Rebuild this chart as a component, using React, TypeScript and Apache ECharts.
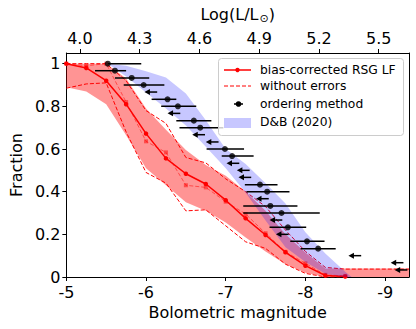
import React, { useEffect, useRef } from "react";
import * as echarts from "echarts";

// ---------- data ----------
const M_SUN = 4.83;
const X_MIN = -9.3;
const X_MAX = -5;

const xTicks = [-5, -6, -7, -8, -9];
const topTicks = [4.0, 4.3, 4.6, 4.9, 5.2, 5.5];
const yTicks = [0, 0.2, 0.4, 0.6, 0.8, 1];

// bias-corrected RSG LF (solid) and "without errors" (dashed) on a 0.25 mag grid
const lfM = [-5, -5.25, -5.5, -5.75, -6, -6.25, -6.5, -6.75, -7, -7.25, -7.5, -7.75, -8, -8.25, -8.5];
const lfCorrected = [1.0, 0.98, 0.92, 0.81, 0.672, 0.556, 0.484, 0.436, 0.36, 0.275, 0.197, 0.116, 0.053, 0.007, 0.002];
const lfNoErr = [1.0, 0.99, 1.0, 0.82, 0.636, 0.584, 0.43, 0.42, 0.353, 0.295, 0.205, 0.118, 0.064, 0.01, 0.005];
const lfNoErrLower = [0.885, 0.905, 0.91, 0.68, 0.49, 0.44, 0.31, 0.315, 0.24, 0.165, 0.134, 0.06, 0.017, 0.0, 0.0];

const upperM = [-5, -5.25, -5.5, -5.75, -6, -6.25, -6.5, -6.75, -7, -7.25, -7.5, -7.75, -8, -8.25, -8.5, -9.3];
const lfNoErrUpper = [1.0, 1.0, 1.0, 0.92, 0.78, 0.72, 0.56, 0.535, 0.46, 0.4, 0.33, 0.22, 0.12, 0.045, 0.037, 0.037];

// shaded range of the bias-corrected LF
const bandM = [-5, -5.25, -5.5, -5.75, -6, -6.25, -6.5, -6.75, -7, -7.25, -7.5, -7.75, -8, -8.25, -8.5, -9.3];
const bandUpper = [1.0, 1.0, 1.0, 0.93, 0.79, 0.69, 0.595, 0.525, 0.475, 0.4, 0.31, 0.2, 0.115, 0.04, 0.04, 0.04];
const bandLower = [0.89, 0.87, 0.81, 0.665, 0.51, 0.43, 0.35, 0.31, 0.255, 0.185, 0.12, 0.06, 0.02, 0.0, 0.0, 0.0];

// D&B (2020) band
const dbM = [-5.52, -5.75, -6.0, -6.25, -6.5, -6.75, -7.0, -7.25, -7.5, -7.75, -8.0, -8.25, -8.5, -8.58];
const dbUpper = [1.0, 0.99, 0.965, 0.935, 0.86, 0.735, 0.6, 0.53, 0.44, 0.345, 0.21, 0.11, 0.025, 0.0];
const dbLower = [1.0, 0.94, 0.865, 0.79, 0.71, 0.61, 0.51, 0.395, 0.265, 0.14, 0.07, 0.015, 0.0, 0.0];

// ordering method: points with asymmetric horizontal error bars
const ordM = [-5.52, -5.61, -5.82, -5.97, -6.27, -6.4, -6.6, -6.68, -6.99, -7.08, -7.43, -7.52, -7.56, -7.7, -7.78, -8.02, -8.16];
const ordF = [1.0, 0.967, 0.933, 0.9, 0.833, 0.8, 0.733, 0.7, 0.6, 0.567, 0.433, 0.4, 0.333, 0.3, 0.233, 0.167, 0.133];
const ordLo = [-5.52, -5.36, -5.61, -5.72, -6.07, -6.19, -6.38, -6.42, -6.76, -6.95, -7.24, -7.26, -7.22, -7.22, -7.55, -7.81, -7.94];
const ordHi = [-5.94, -5.75, -6.04, -6.23, -6.38, -6.63, -6.82, -6.97, -7.23, -7.35, -7.65, -7.8, -7.9, -8.18, -8.01, -8.24, -8.38];

// ordering method: limits (arrows pointing to fainter magnitudes)
const limM = [-6.14, -6.43, -6.74, -6.91, -7.17, -7.3, -7.32, -7.54, -7.71, -7.79, -8.7, -9.23, -9.28];
const limF = [0.867, 0.767, 0.667, 0.633, 0.533, 0.5, 0.467, 0.367, 0.267, 0.2, 0.1, 0.067, 0.033];
const limLen = 0.16;

const FONT = "DejaVu Sans";

function zip(xs: number[], ys: number[]) {
  return xs.map((x, i) => [x, ys[i]]);
}

function bandRenderer(xs: number[], lo: number[], hi: number[], fill: string) {
  return (params: any, api: any) => {
    const pts: number[][] = [];
    for (let i = 0; i < xs.length; i++) pts.push(api.coord([xs[i], hi[i]]));
    for (let i = xs.length - 1; i >= 0; i--) pts.push(api.coord([xs[i], lo[i]]));
    return {
      type: "polygon",
      shape: { points: pts },
      style: { fill, stroke: "none" },
    };
  };
}

export default function App() {
  const ref = useRef<HTMLDivElement>(null);

  useEffect(() => {
    document.body.style.margin = "0";
    if (!ref.current) return;
    const chart = echarts.init(ref.current, undefined, { renderer: "svg" });

    const lumMin = (M_SUN - X_MAX) / 2.5;
    const lumMax = (M_SUN - X_MIN) / 2.5;

    const axisText = { fontSize: 16, fontFamily: FONT, color: "#000" };
    const lineBlack = { color: "#000", width: 1 };
    const dash = [4, 2];

    const legendX = 218;
    const legendY = 58;

    const option: any = {
      animation: false,
      grid: { left: 61, right: 7, top: 53, bottom: 52, containLabel: false },
      xAxis: [
        {
          type: "value",
          position: "bottom",
          inverse: true,
          min: X_MIN,
          max: X_MAX,
          axisLine: { show: true, onZero: false, lineStyle: lineBlack },
          axisTick: { show: true, length: 4, customValues: xTicks, lineStyle: lineBlack },
          axisLabel: { ...axisText, customValues: xTicks, margin: 7, formatter: (v: number) => String(v) },
          splitLine: { show: false },
          name: "Bolometric magnitude",
          nameLocation: "middle",
          nameGap: 27,
          nameTextStyle: { ...axisText },
        },
        {
          type: "value",
          position: "top",
          min: lumMin,
          max: lumMax,
          axisLine: { show: true, onZero: false, lineStyle: lineBlack },
          axisTick: { show: true, length: 4, customValues: topTicks, lineStyle: lineBlack },
          axisLabel: { ...axisText, customValues: topTicks, margin: 7, formatter: (v: number) => v.toFixed(1) },
          splitLine: { show: false },
          name: "Log(L/L{s|⊙})",
          nameLocation: "middle",
          nameGap: 29,
          nameTextStyle: {
            ...axisText,
            rich: {
              s: { fontSize: 11, fontFamily: FONT, color: "#000", padding: [8, 0, 0, 1] },
            },
          },
        },
      ],
      yAxis: [
        {
          type: "value",
          position: "left",
          min: 0,
          max: 1.05,
          axisLine: { show: true, onZero: false, lineStyle: lineBlack },
          axisTick: { show: true, length: 4, customValues: yTicks, lineStyle: lineBlack },
          axisLabel: {
            ...axisText,
            customValues: yTicks,
            margin: 6,
            formatter: (v: number) => (v === 0 ? "0" : v === 1 ? "1" : v.toFixed(1)),
          },
          splitLine: { show: false },
          name: "Fraction",
          nameLocation: "middle",
          nameGap: 41,
          nameRotate: 90,
          nameTextStyle: { ...axisText },
        },
        {
          type: "value",
          position: "right",
          min: 0,
          max: 1.05,
          axisLine: { show: true, onZero: false, lineStyle: lineBlack },
          axisTick: { show: false },
          axisLabel: { show: false },
          splitLine: { show: false },
        },
      ],
      series: [
        {
          type: "custom",
          name: "band",
          clip: true,
          silent: true,
          data: [[X_MAX, 1]],
          renderItem: bandRenderer(bandM, bandLower, bandUpper, "rgba(255,0,0,0.42)"),
          z: 1,
        },
        {
          type: "line",
          name: "without errors upper",
          data: zip(upperM, lfNoErrUpper),
          symbol: "none",
          lineStyle: { color: "#ff0000", width: 1, type: dash },
          z: 2,
        },
        {
          type: "line",
          name: "without errors lower",
          data: zip(lfM, lfNoErrLower),
          symbol: "none",
          lineStyle: { color: "#ff0000", width: 1, type: dash },
          z: 2,
        },
        {
          type: "line",
          name: "without errors",
          data: zip(lfM, lfNoErr),
          symbol: "rect",
          symbolSize: 4,
          itemStyle: { color: "rgba(255,0,0,0.5)" },
          lineStyle: { color: "rgba(255,0,0,0.5)", width: 1, type: dash },
          z: 2,
        },
        {
          type: "line",
          name: "bias-corrected RSG LF",
          data: zip(lfM, lfCorrected),
          symbol: "circle",
          symbolSize: 4.5,
          itemStyle: { color: "#ff0000" },
          lineStyle: { color: "#ff0000", width: 1.5 },
          z: 3,
        },
        {
          type: "custom",
          name: "D&B (2020)",
          clip: true,
          silent: true,
          data: [[X_MAX, 1]],
          renderItem: bandRenderer(dbM, dbLower, dbUpper, "rgba(0,0,255,0.22)"),
          z: 4,
        },
        {
          type: "custom",
          name: "ordering errorbars",
          data: ordM.map((_, i) => [ordLo[i], ordHi[i], ordF[i]]),
          encode: { x: [0, 1], y: 2 },
          renderItem: (params: any, api: any) => {
            const a = api.coord([api.value(0), api.value(2)]);
            const b = api.coord([api.value(1), api.value(2)]);
            return {
              type: "line",
              shape: { x1: a[0], y1: a[1], x2: b[0], y2: b[1] },
              style: { stroke: "#000", lineWidth: 1.5 },
            };
          },
          z: 5,
        },
        {
          type: "custom",
          name: "ordering limits",
          data: limM.map((m, i) => [m, m + limLen, limF[i]]),
          encode: { x: [0, 1], y: 2 },
          renderItem: (params: any, api: any) => {
            const t = api.coord([api.value(0), api.value(2)]);
            const h = api.coord([api.value(1), api.value(2)]);
            return {
              type: "group",
              children: [
                {
                  type: "line",
                  shape: { x1: t[0], y1: t[1], x2: h[0] + 3, y2: h[1] },
                  style: { stroke: "#000", lineWidth: 1.5 },
                },
                {
                  type: "polygon",
                  shape: { points: [[h[0], h[1]], [h[0] + 5.5, h[1] - 3], [h[0] + 5.5, h[1] + 3]] },
                  style: { fill: "#000" },
                },
              ],
            };
          },
          z: 5,
        },
        {
          type: "scatter",
          name: "ordering method",
          data: zip(ordM, ordF),
          symbol: "circle",
          symbolSize: 6,
          itemStyle: { color: "#000" },
          z: 6,
        },
      ],
      graphic: [
        {
          type: "rect",
          left: legendX,
          top: legendY,
          shape: { width: 185, height: 77, r: 3 },
          style: { fill: "rgba(255,255,255,0.8)", stroke: "#cccccc", lineWidth: 1 },
          z: 100,
        },
        {
          type: "line",
          shape: { x1: 224, y1: 70, x2: 251, y2: 70 },
          style: { stroke: "#ff0000", lineWidth: 1.5 },
          z: 101,
        },
        { type: "circle", shape: { cx: 237.5, cy: 70, r: 2.2 }, style: { fill: "#ff0000" }, z: 101 },
        {
          type: "line",
          shape: { x1: 224, y1: 86, x2: 251, y2: 86 },
          style: { stroke: "#ff0000", lineWidth: 1, lineDash: dash },
          z: 101,
        },
        {
          type: "line",
          shape: { x1: 234, y1: 104, x2: 243, y2: 104 },
          style: { stroke: "#000", lineWidth: 1.5 },
          z: 101,
        },
        { type: "circle", shape: { cx: 238.5, cy: 104, r: 2.8 }, style: { fill: "#000" }, z: 101 },
        {
          type: "rect",
          shape: { x: 224, y: 118, width: 27, height: 10 },
          style: { fill: "rgba(0,0,255,0.22)" },
          z: 101,
        },
        {
          type: "text",
          x: 260,
          y: 70,
          style: { text: "bias-corrected RSG LF", font: `12.3px "${FONT}"`, fill: "#000", verticalAlign: "middle" },
          z: 101,
        },
        {
          type: "text",
          x: 260,
          y: 86,
          style: { text: "without errors", font: `12.3px "${FONT}"`, fill: "#000", verticalAlign: "middle" },
          z: 101,
        },
        {
          type: "text",
          x: 260,
          y: 104,
          style: { text: "ordering method", font: `12.3px "${FONT}"`, fill: "#000", verticalAlign: "middle" },
          z: 101,
        },
        {
          type: "text",
          x: 260,
          y: 122,
          style: { text: "D&B (2020)", font: `12.3px "${FONT}"`, fill: "#000", verticalAlign: "middle" },
          z: 101,
        },
      ],
    };

    chart.setOption(option);
    return () => chart.dispose();
  }, []);

  return <div ref={ref} style={{ width: 416, height: 329 }} />;
}
